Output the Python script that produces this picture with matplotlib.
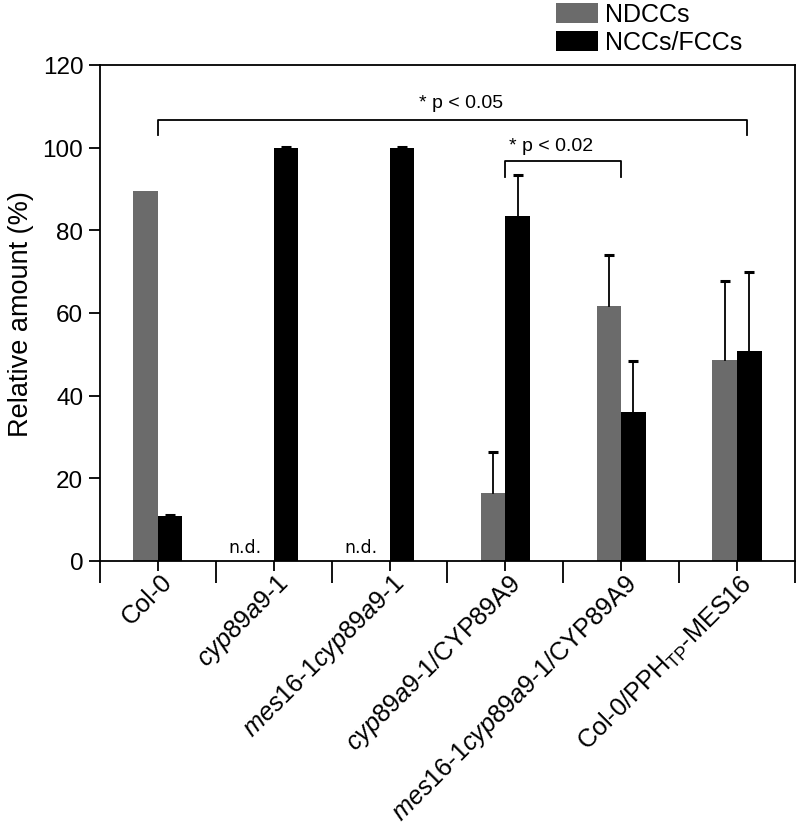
import matplotlib
matplotlib.use("Agg")
import matplotlib.pyplot as plt
import matplotlib.transforms as mtransforms
import numpy as np

plt.rcParams['font.family'] = ['Liberation Sans', 'DejaVu Sans']
plt.rcParams['mathtext.fontset'] = 'custom'
plt.rcParams['mathtext.rm'] = 'Liberation Sans'
plt.rcParams['mathtext.it'] = 'Liberation Sans:italic'

# data
lines = [
    "Col-0",
    r"$\mathit{cyp89a9}$-$\mathit{1}$",
    r"$\mathit{mes16}$-$\mathit{1cyp89a9}$-$\mathit{1}$",
    r"$\mathit{cyp89a9}$-$\mathit{1}$/CYP89A9",
    r"$\mathit{mes16}$-$\mathit{1cyp89a9}$-$\mathit{1}$/CYP89A9",
    r"Col-0/PPH$_{\mathrm{TP}}$-MES16",
]
ndccs = [89.5, 0, 0, 16.4, 61.6, 48.6]
ndccs_err = [0, 0, 0, 10.0, 12.4, 19.2]
nccs = [10.8, 100, 100, 83.4, 36.0, 50.8]
nccs_err = [0.2, 0.2, 0.2, 10.0, 12.4, 19.2]
not_detected = [1, 2]

x = np.arange(len(lines))
w = 0.212

fig = plt.figure(figsize=(7.96, 8.28), dpi=100)
ax = fig.add_axes([0.1256, 0.3213, 0.873, 0.599])

ax.bar(x - w / 2, ndccs, w, color='#6b6b6b', label='NDCCs')
ax.bar(x + w / 2, nccs, w, color='black', label='NCCs/FCCs')


def up_errors(xs, vals, errs):
    # only the upper half of the error bar, with a small cap
    for xi, v, e in zip(xs, vals, errs):
        if e <= 0:
            continue
        ax.plot([xi, xi], [v, v + e], color='black', lw=1.3, zorder=3)
        ax.plot([xi], [v + e], marker='_', ms=7, mew=2.2, color='black', zorder=3)


up_errors(x - w / 2, ndccs, ndccs_err)
up_errors(x + w / 2, nccs, nccs_err)

for i in not_detected:
    ax.text(i - 0.103, 1.2, "n.d.", ha='right', va='bottom', fontsize=12.5,
            family='DejaVu Sans')

# significance brackets
ax.plot([0, 0, 5.09, 5.09], [103, 106.8, 106.8, 103], color='black', lw=1.3)
ax.text(2.62, 111, "* p < 0.05", ha='center', va='center', fontsize=14)
ax.plot([3.0, 3.0, 4.0, 4.0], [93, 96.8, 96.8, 93], color='black', lw=1.3)
ax.text(3.03, 100.5, "* p < 0.02", ha='left', va='center', fontsize=14)

ax.set_xlim(-0.5, 5.5)
ax.set_ylim(0, 120)
ax.set_yticks(range(0, 121, 20))
ax.set_ylabel("Relative amount (%)", fontsize=19.5, labelpad=6)

ax.set_xticks(np.arange(-0.5, 5.6, 1))
ax.set_xticklabels([])
ax.set_xticks(x, minor=True)
ax.set_xticklabels(lines, minor=True, rotation=45, ha='right',
                   rotation_mode='anchor', fontsize=18.2)
ax.tick_params(axis='x', which='major', length=16, width=1.3, direction='out')
ax.tick_params(axis='x', which='minor', length=7, width=1.3, direction='out', pad=-1)
ax.tick_params(axis='y', length=8, width=1.3, labelsize=17.5, pad=4)
shift = mtransforms.ScaledTranslation(2 / 100, 0, fig.dpi_scale_trans)
for lab in ax.get_xticklabels(minor=True):
    lab.set_transform(lab.get_transform() + shift)
for s in ax.spines.values():
    s.set_linewidth(1.3)

fig.legend(loc='upper right', bbox_to_anchor=(0.961, 1.023), frameon=False,
           fontsize=18, handlelength=1.65, handleheight=0.85,
           handletextpad=0.3, labelspacing=0.15)

fig.savefig("out.png", dpi=100)
